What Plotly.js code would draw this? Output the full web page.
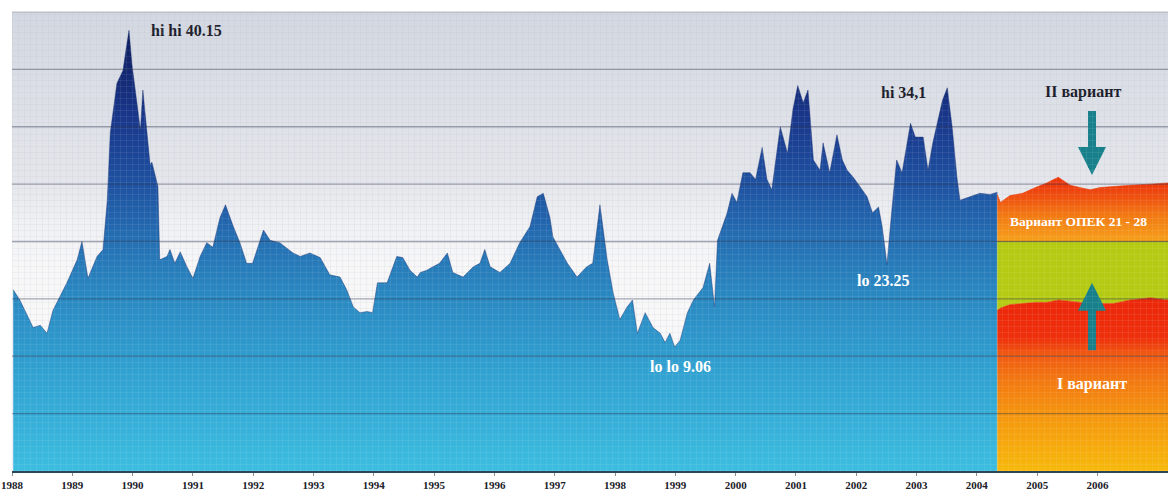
<!DOCTYPE html>
<html>
<head>
<meta charset="utf-8">
<script src="https://cdn.plot.ly/plotly-3.0.1.min.js"></script>
<style>
  html, body { margin: 0; padding: 0; background: #ffffff; }
  #wrap { position: relative; width: 1170px; height: 499px; overflow: hidden; }
  #bg {
    position: absolute; left: 12px; top: 12px; width: 1156px; height: 459px;
    background-image:
      repeating-linear-gradient(0deg, rgba(110,120,140,0.08) 0 1px, transparent 1px 6px),
      repeating-linear-gradient(90deg, rgba(110,120,140,0.08) 0 1px, transparent 1px 6px),
      linear-gradient(180deg, #d3d7e1 0%, #dfe2e8 25%, #e4e6eb 37%, #eff0f3 45%, #f7f7f8 55%, #fbfbfc 100%);
  }
  #chart { position: absolute; left: 0; top: 0; width: 1170px; height: 499px; }
  #tex {
    position: absolute; left: 12px; top: 12px; width: 1156px; height: 459px; pointer-events: none;
    background-image:
      repeating-linear-gradient(0deg, rgba(255,255,255,0.07) 0 1px, transparent 1px 6px),
      repeating-linear-gradient(90deg, rgba(255,255,255,0.07) 0 1px, transparent 1px 6px);
  }
</style>
</head>
<body>
<div id="wrap">
  <div id="bg"></div>
  <div id="chart"></div>
  <div id="tex"></div>
</div>
<script>
// ---- Historical series (decimal year, price) ----
const histYears = [
  1988.02,1988.13,1988.35,1988.47,1988.58,1988.68,1988.91,1989.08,1989.16,1989.26,1989.41,1989.51,
  1989.58,1989.63,1989.74,1989.84,1989.89,1989.94,1989.99,1990.08,1990.13,1990.17,1990.24,1990.29,1990.32,1990.42,
  1990.45,1990.57,1990.62,1990.70,1990.79,1990.90,1991.00,1991.12,1991.23,1991.33,1991.45,1991.54,1991.67,1991.78,1991.89,1991.99,
  1992.17,1992.28,1992.44,1992.57,1992.66,1992.78,1992.94,1993.11,1993.27,1993.44,1993.55,1993.66,1993.77,1993.89,1993.98,1994.06,
  1994.22,1994.38,1994.48,1994.60,1994.72,1994.77,1994.88,1994.98,1995.09,1995.22,1995.31,1995.48,1995.65,1995.76,1995.84,1995.93,1996.09,
  1996.26,1996.42,1996.59,1996.71,1996.81,1996.92,1996.97,1997.08,1997.21,1997.37,1997.53,1997.63,1997.75,1997.87,1997.97,1998.08,1998.20,
  1998.29,1998.37,1998.50,1998.63,1998.75,1998.83,1998.91,1998.99,1999.08,1999.20,1999.30,1999.46,1999.57,1999.65,1999.70,1999.86,1999.94,2000.02,2000.12,2000.24,
  2000.33,2000.44,2000.52,2000.60,2000.74,2000.86,2000.95,2001.03,2001.12,2001.20,2001.29,2001.40,2001.45,2001.56,2001.68,2001.77,2001.85,2001.95,2002.06,2002.18,2002.27,
  2002.37,2002.43,2002.51,2002.59,2002.67,2002.76,2002.90,2002.98,2003.11,2003.19,2003.27,2003.43,2003.51,2003.59,2003.67,2003.72,2003.89,2004.05,2004.22,2004.34
];
const histPrices = [
  15.8,14.9,12.5,12.7,12.0,14.0,16.4,18.4,20.0,16.8,18.7,19.3,
  23.6,29.5,33.8,34.9,36.7,38.4,35.4,31.5,29.7,33.2,29.5,26.7,26.9,24.8,
  18.4,18.7,19.3,18.1,19.1,17.8,16.8,18.7,19.9,19.5,22.1,23.2,21.3,19.9,18.1,18.1,
  21.0,20.1,19.9,19.4,19.0,18.7,19.0,18.6,17.1,16.9,15.8,14.3,13.8,13.9,13.8,16.4,
  16.4,18.7,18.6,17.5,16.9,17.3,17.5,17.8,18.1,19.0,17.3,16.9,17.8,18.1,19.3,17.8,17.3,
  18.1,19.9,21.3,23.9,24.2,22.1,20.4,19.3,18.1,16.9,17.8,18.1,23.2,18.4,15.5,13.2,14.3,
  14.9,12.0,13.8,12.5,12.0,11.2,12.0,10.8,11.4,13.8,14.9,16.0,18.1,14.3,20.1,22.5,24.2,23.4,26.0,26.0,
  25.4,28.2,25.4,24.5,30.0,27.7,31.5,33.6,32.1,33.2,27.1,26.2,28.6,26.0,29.3,27.1,26.2,25.6,24.8,23.9,22.5,
  23.0,21.3,18.0,22.7,27.1,26.0,30.3,29.1,29.1,26.2,28.6,32.3,33.4,30.0,25.6,23.6,23.9,24.2,24.1,24.3
];

// ---- Forecast ----
const fcYears    = [2004.34,2004.39,2004.55,2004.76,2004.97,2005.16,2005.35,2005.55,2005.71,2005.88,2006.04,2006.26,2006.54,2006.88,2007.17];
const fcVariant1 = [14.0,14.2,14.5,14.6,14.7,14.7,14.9,14.8,14.7,14.6,14.6,14.6,14.9,15.1,14.9];
const fcOpecLow  = [20,20,20,20,20,20,20,20,20,20,20,20,20,20,20];
const fcVariant2 = [24.1,23.4,24.0,24.2,24.7,25.1,25.6,24.9,24.7,24.5,24.7,24.8,24.9,25.0,25.1];

// ---- Axis ----
const tickYears = [1988,1989,1990,1991,1992,1993,1994,1995,1996,1997,1998,1999,2000,2001,2002,2003,2004,2005,2006];
const tickLabels = tickYears.map(String);
const gridValues = [5,10,15,20,25,30,35];

const serif = "Liberation Serif, DejaVu Serif, serif";

const traces = [
  {
    x: histYears, y: histPrices, type: 'scatter', mode: 'lines', fill: 'tozeroy',
    line: { width: 0.8, color: 'rgba(22,45,110,0.55)' },
    fillgradient: {
      type: 'vertical', start: 0, stop: 38.4,
      colorscale: [[0,'#3cbde0'],[0.25,'#309ecf'],[0.4,'#2a88c1'],[0.52,'#2570b3'],[0.65,'#1f52a1'],[0.8,'#19378b'],[1,'#0e1b5c']]
    },
    hoverinfo: 'skip'
  },
  {
    x: fcYears, y: fcVariant1, type: 'scatter', mode: 'lines', fill: 'tozeroy',
    line: { width: 0.6, color: '#e8300c' },
    fillgradient: {
      type: 'vertical', start: 0, stop: 14.5,
      colorscale: [[0,'#f6b90c'],[0.3,'#f59a0e'],[0.55,'#f27812'],[0.7,'#f05a12'],[0.8,'#ee300c'],[1,'#ec280a']]
    },
    hoverinfo: 'skip'
  },
  {
    x: fcYears, y: fcOpecLow, type: 'scatter', mode: 'lines', fill: 'tonexty',
    line: { width: 1, color: 'rgba(120,120,20,0.6)' },
    fillcolor: '#b5ca12',
    hoverinfo: 'skip'
  },
  {
    x: fcYears, y: fcVariant2, type: 'scatter', mode: 'lines', fill: 'tonexty',
    line: { width: 0.6, color: '#ea3a0c' },
    fillgradient: {
      type: 'vertical', start: 20, stop: 25,
      colorscale: [[0,'#f6a01a'],[0.45,'#f27a14'],[0.75,'#ef5410'],[1,'#ec380c']]
    },
    hoverinfo: 'skip'
  }
];

const shapes = gridValues.map(v => ({
  type: 'line', xref: 'paper', yref: 'y', x0: 0, x1: 1, y0: v, y1: v,
  layer: 'above', line: { color: 'rgba(45,55,80,0.42)', width: 1.4 }
}));
shapes.push({ type: 'line', xref: 'paper', yref: 'paper', x0: 0, x1: 1, y0: 1, y1: 1,
  layer: 'above', line: { color: 'rgba(120,125,140,0.5)', width: 1 } });

const annFont = (c, s) => ({ family: serif, size: s || 16, color: c, weight: 'bold' });
const annotations = [
  { x: 1990.90, y: 38.4, xref: 'x', yref: 'y', text: 'hi hi 40.15', showarrow: false, font: annFont('#1c1c2a') },
  { x: 2002.78, y: 33.0, xref: 'x', yref: 'y', text: 'hi 34,1', showarrow: false, font: annFont('#1c1c2a') },
  { x: 2002.44, y: 16.6, xref: 'x', yref: 'y', text: 'lo 23.25', showarrow: false, font: annFont('#ffffff') },
  { x: 1999.09, y: 9.15, xref: 'x', yref: 'y', text: 'lo lo 9.06', showarrow: false, font: annFont('#ffffff') },
  { x: 2005.76, y: 33.0, xref: 'x', yref: 'y', text: 'II вариант', showarrow: false, font: annFont('#1c1c2a') },
  { x: 2004.52, y: 21.7, xref: 'x', yref: 'y', text: 'Вариант ОПЕК 21 - 28', showarrow: false, xanchor: 'left', font: annFont('#ffffff', 13.5) },
  { x: 2005.91, y: 7.6, xref: 'x', yref: 'y', text: 'I вариант', showarrow: false, font: annFont('#ffffff') },
  // down arrow (II вариант)
  { x: 2005.91, y: 25.8, xref: 'x', yref: 'y', ax: 2005.91, ay: 31.5, axref: 'x', ayref: 'y', text: '',
    showarrow: true, arrowhead: 2, arrowsize: 0.7, arrowwidth: 8, arrowcolor: '#17808a' },
  // up arrow (I вариант)
  { x: 2005.91, y: 16.4, xref: 'x', yref: 'y', ax: 2005.91, ay: 10.4, axref: 'x', ayref: 'y', text: '',
    showarrow: true, arrowhead: 2, arrowsize: 0.7, arrowwidth: 8, arrowcolor: '#17808a' }
];

const layout = {
  width: 1170, height: 499,
  margin: { l: 12, r: 2, t: 12, b: 28 },
  paper_bgcolor: 'rgba(0,0,0,0)', plot_bgcolor: 'rgba(0,0,0,0)',
  showlegend: false,
  xaxis: {
    range: [1988, 2007.17], tickvals: tickYears, ticktext: tickLabels,
    showgrid: false, zeroline: false, showline: true, linecolor: '#2c4656', linewidth: 1.5,
    ticks: 'outside', ticklen: 3, tickcolor: '#8a9098',
    tickfont: { family: serif, size: 11, color: '#202028', weight: 'bold' }, fixedrange: true
  },
  yaxis: {
    range: [0, 40], showgrid: false, zeroline: false, showticklabels: false, ticks: '', fixedrange: true
  },
  shapes: shapes,
  annotations: annotations
};

Plotly.newPlot('chart', traces, layout, { displayModeBar: false, staticPlot: true });
</script>
</body>
</html>
